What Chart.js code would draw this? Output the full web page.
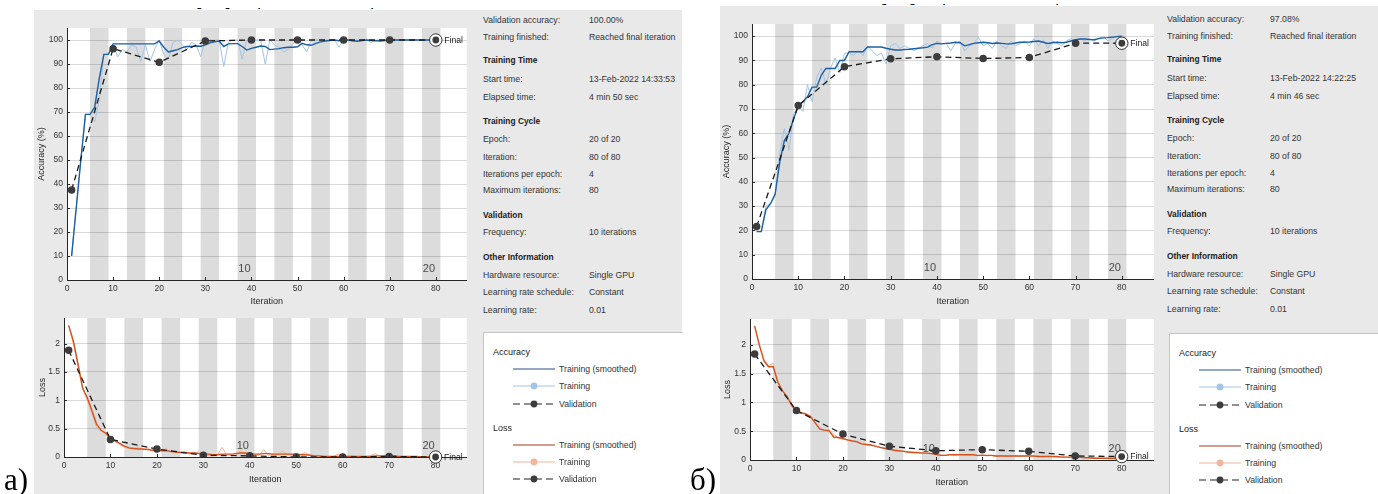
<!DOCTYPE html>
<html>
<head>
<meta charset="utf-8">
<script src="https://cdn.jsdelivr.net/npm/chart.js@4.4.1/dist/chart.umd.min.js"></script>
<style>
  html, body { margin: 0; padding: 0; background: #fff; width: 1378px; height: 494px; overflow: hidden;
               font-family: "Liberation Sans", Arial, sans-serif; position: relative; }
  .panel { position: absolute; background: #e9e9e9; }
  canvas { position: absolute; }
  .txt { position: absolute; font-size: 8.7px; line-height: 12px; color: #333; white-space: nowrap; }
  .hd { font-weight: bold; font-size: 8.4px; color: #222; }
  .legend { position: absolute; background: #fff; border-left: 1px solid #c6c6c6; border-top: 1px solid #c6c6c6; }
  .legend svg { position: absolute; }
  .tag { position: absolute; font-family: "Liberation Serif", "Times New Roman", serif; font-size: 31px; line-height: 31px; color: #000; }
  .cut { position: absolute; height: 2.5px; overflow: hidden; }
  .cut span { display: block; font-weight: bold; font-size: 11px; line-height: 11px; margin-top: -9.6px; color: #111; }
</style>
</head>
<body>

<div class="cut" style="left:160px; top:8px; width:260px;"><span>Training Progress (13-Feb-2022 14:33:53)</span></div>
<div class="cut" style="left:845px; top:4px; width:260px;"><span>Training Progress (13-Feb-2022 14:22:25)</span></div>

<div class="panel" style="left:34px; top:10px; width:648px; height:484px;"></div>
<div class="panel" style="left:720px; top:6px; width:658px; height:488px;"></div>

<canvas id="accA"></canvas>
<canvas id="lossA"></canvas>
<canvas id="accB"></canvas>
<canvas id="lossB"></canvas>

<div id="infoA"></div>
<div id="infoB"></div>
<div id="legA" class="legend" style="left:483px; top:332px; width:199px; height:162px;"></div>
<div id="legB" class="legend" style="left:1169px; top:333px; width:209px; height:161px;"></div>

<div class="tag" style="left:4px; top:464px;">а)</div>
<div class="tag" style="left:690px; top:464px;">б)</div>

<script>
const ITERS_PER_EPOCH = 4;
const EPOCH_COUNT = 20;
const iterations = Array.from({ length: 80 }, (_, k) => k + 1);
const valIterations = [1, 10, 20, 30, 40, 50, 60, 70, 80];
const labelledEpochs = [10, 20];

const accTicksMax = 105;
const lossTicksMax = 2.45;

/* ── Run а) ── */
const accRawA = [
  10, 30, 50, 69, 69, 66, 75, 94, 94, 98,
  93, 96, 95, 98, 97, 91, 98, 91, 96, 100,
  94, 92, 99, 100, 98, 96, 99, 98, 93, 100,
  100, 100, 100, 89, 99, 100, 100, 92, 100, 100,
  100, 100, 90, 100, 98, 97, 95, 96, 98.5, 100,
  98, 95, 100, 100, 100, 100, 100, 100, 97, 100,
  100, 99.5, 100, 100, 100, 99, 100, 100, 100, 100,
  100, 100, 100, 100, 100, 100, 100, 100, 100, 100
];
const accSmoothA = [
  10, 30, 50, 69, 69, 72, 84, 94, 94, 98.4,
  98.4, 98.4, 98.4, 98.4, 98.4, 98.4, 98.4, 98.4, 98.4, 99.6,
  97, 95, 95.5, 96, 96.8, 97.3, 97.3, 97.5, 97.4, 98,
  98.8, 99.2, 99.6, 97.3, 98.4, 98.5, 98.5, 97.3, 95.8, 96.5,
  97, 97.5, 97.3, 96, 96.2, 96.4, 96.8, 97, 97, 97.2,
  98.6, 98, 97.8, 98.6, 99.2, 99.6, 99.8, 100, 99.7, 100,
  100, 99.7, 99.5, 99.8, 100, 99.8, 99.7, 99.6, 99.8, 100,
  100, 100, 100, 100, 100, 100, 100, 100, 100, 100
];
const accValA = [37.5, 96.4, 90.7, 99.6, 100, 100, 100, 100, 100];

const lossRawA = [
  2.32, 2.00, 1.60, 1.20, 1.00, 0.78, 0.52, 0.45, 0.40, 0.30,
  0.27, 0.22, 0.17, 0.15, 0.14, 0.17, 0.12, 0.16, 0.11, 0.10,
  0.12, 0.15, 0.08, 0.07, 0.08, 0.09, 0.05, 0.07, 0.09, 0.03,
  0.03, 0.02, 0.03, 0.17, 0.04, 0.03, 0.03, 0.12, 0.02, 0.03,
  0.02, 0.03, 0.13, 0.03, 0.04, 0.05, 0.10, 0.05, 0.04, 0.02,
  0.05, 0.08, 0.02, 0.01, 0.01, 0.01, 0.01, 0.01, 0.05, 0.01,
  0.01, 0.02, 0.01, 0.01, 0.01, 0.02, 0.06, 0.01, 0.02, 0.01,
  0.02, 0.01, 0.01, 0.01, 0.00, 0.01, 0.00, 0.00, 0.00, 0.00
];
const lossSmoothA = [
  2.32, 2.05, 1.65, 1.22, 1.05, 0.82, 0.58, 0.47, 0.42, 0.33,
  0.29, 0.24, 0.19, 0.16, 0.15, 0.14, 0.14, 0.13, 0.12, 0.12,
  0.11, 0.11, 0.10, 0.09, 0.08, 0.08, 0.07, 0.07, 0.06, 0.05,
  0.05, 0.04, 0.04, 0.05, 0.05, 0.05, 0.06, 0.07, 0.07, 0.06,
  0.05, 0.05, 0.06, 0.06, 0.05, 0.05, 0.05, 0.05, 0.05, 0.05,
  0.04, 0.04, 0.03, 0.02, 0.02, 0.01, 0.01, 0.01, 0.01, 0.01,
  0.01, 0.01, 0.01, 0.01, 0.01, 0.01, 0.02, 0.02, 0.02, 0.02,
  0.02, 0.01, 0.01, 0.01, 0.01, 0.01, 0.00, 0.00, 0.00, 0.00
];
const lossValA = [1.88, 0.31, 0.14, 0.03, 0.02, 0.00, 0.00, 0.01, 0.00];

/* ── Run б) ── */
const accRawB = [
  19.5, 19.5, 30, 31, 34, 52, 62, 53, 68, 71,
  69, 80, 73, 83, 87, 80, 87, 91, 85, 93,
  93, 92, 94, 92, 96, 94, 92, 93, 88.5, 96,
  97, 95, 96, 95, 94, 95, 96, 97, 95, 98,
  97, 97, 94, 97, 98, 94, 96, 97, 99.5, 96,
  97, 95, 98, 96, 95, 98, 96, 97, 98, 96,
  99, 96, 98.5, 95, 98, 97, 96, 98, 99, 98,
  99, 98, 99, 98, 99, 100, 98, 99, 100, 100
];
const accSmoothB = [
  19.5, 19.5, 28.5, 31, 35, 48, 57, 60, 66, 71,
  73, 75, 79, 79, 84, 86.7, 86.7, 86.7, 90, 90,
  93.6, 93.6, 93.6, 93.6, 95.5, 95.5, 95.5, 95.5, 95, 94.6,
  94.3, 94.3, 94.5, 94.6, 94.8, 95, 95.2, 95.5, 96.5, 97,
  96.8, 97, 97.2, 97.5, 97.3, 96, 96.5, 97, 97.3, 97.5,
  97.3, 97, 97.2, 97, 96.8, 96.8, 97.2, 97.5, 97.5, 97.6,
  97.8, 98, 97.5, 97, 97.3, 97.5, 97.3, 97.5, 98, 98.5,
  98.8, 98.8, 98.6, 98.5, 99, 99.3, 99.4, 99.6, 99.8, 100
];
const accValB = [21.6, 71.4, 87.4, 90.7, 91.5, 90.8, 91.2, 97.1, 97.08];

const lossRawB = [
  2.33, 2.00, 1.75, 1.64, 1.68, 1.33, 1.22, 1.08, 0.93, 0.86,
  0.80, 0.81, 0.74, 0.64, 0.55, 0.51, 0.53, 0.45, 0.38, 0.38,
  0.34, 0.34, 0.30, 0.29, 0.26, 0.27, 0.23, 0.22, 0.21, 0.18,
  0.18, 0.15, 0.16, 0.13, 0.14, 0.12, 0.13, 0.11, 0.12, 0.09,
  0.09, 0.08, 0.10, 0.08, 0.10, 0.09, 0.08, 0.10, 0.07, 0.09,
  0.07, 0.08, 0.06, 0.08, 0.07, 0.06, 0.08, 0.06, 0.07, 0.08,
  0.06, 0.07, 0.05, 0.07, 0.06, 0.05, 0.06, 0.05, 0.04, 0.06,
  0.04, 0.05, 0.03, 0.04, 0.03, 0.02, 0.03, 0.02, 0.03, 0.02
];
const lossSmoothB = [
  2.33, 2.00, 1.72, 1.62, 1.62, 1.35, 1.20, 1.10, 0.95, 0.83,
  0.82, 0.80, 0.76, 0.65, 0.54, 0.52, 0.51, 0.40, 0.39, 0.37,
  0.35, 0.33, 0.32, 0.28, 0.27, 0.26, 0.24, 0.22, 0.20, 0.19,
  0.17, 0.16, 0.15, 0.14, 0.13, 0.13, 0.12, 0.12, 0.11, 0.10,
  0.08, 0.08, 0.09, 0.09, 0.09, 0.09, 0.09, 0.09, 0.08, 0.08,
  0.08, 0.08, 0.07, 0.07, 0.07, 0.07, 0.07, 0.07, 0.07, 0.07,
  0.07, 0.06, 0.06, 0.06, 0.06, 0.06, 0.05, 0.05, 0.05, 0.05,
  0.05, 0.04, 0.04, 0.03, 0.03, 0.03, 0.03, 0.03, 0.03, 0.03
];
const lossValB = [1.84, 0.86, 0.45, 0.24, 0.16, 0.18, 0.15, 0.07, 0.06];

/* ── Info panel text ── */
const infoA = [
  ['Validation accuracy:', '100.00%'],
  ['Training finished:', 'Reached final iteration'],
  ['Training Time'],
  ['Start time:', '13-Feb-2022 14:33:53'],
  ['Elapsed time:', '4 min 50 sec'],
  ['Training Cycle'],
  ['Epoch:', '20 of 20'],
  ['Iteration:', '80 of 80'],
  ['Iterations per epoch:', '4'],
  ['Maximum iterations:', '80'],
  ['Validation'],
  ['Frequency:', '10 iterations'],
  ['Other Information'],
  ['Hardware resource:', 'Single GPU'],
  ['Learning rate schedule:', 'Constant'],
  ['Learning rate:', '0.01']
];
const infoB = infoA.map(r => r.slice());
infoB[0][1] = '97.08%';
infoB[3][1] = '13-Feb-2022 14:22:25';
infoB[4][1] = '4 min 46 sec';

const ROW_Y = [20, 37, 60, 79, 97, 121, 139, 157, 174, 190, 215, 232, 257, 275, 292, 310];

const COL = {
  accSmooth: '#1b5fa5', accRaw: '#a3c5e6',
  lossSmooth: '#d4521c', lossRaw: '#f2b49b',
  val: '#1a1a1a', valDot: '#3c3c3c',
  stripe: '#dcdcdc', axis: '#262626', tick: '#333'
};
const FONT = '"Liberation Sans", Arial, sans-serif';

/* ── Chart decorations: epoch stripes, epoch numbers, inward ticks, final marker ── */
const epochPlugin = {
  id: 'epochs',
  beforeDraw(chart) {
    const { ctx, chartArea: a, scales: { x } } = chart;
    ctx.save();
    ctx.fillStyle = '#fff';
    ctx.fillRect(a.left, a.top, a.right - a.left, a.bottom - a.top);
    ctx.fillStyle = COL.stripe;
    for (let e = 2; e <= EPOCH_COUNT; e += 2) {
      const x0 = x.getPixelForValue((e - 1) * ITERS_PER_EPOCH + 1);
      const x1 = x.getPixelForValue(e * ITERS_PER_EPOCH + 1);
      ctx.fillRect(x0, a.top, x1 - x0, a.bottom - a.top);
    }
    ctx.restore();
  },
  beforeDatasetsDraw(chart) {
    const { ctx, chartArea: a, scales: { x } } = chart;
    ctx.save();
    ctx.font = '11px ' + FONT;
    ctx.fillStyle = '#4a4a4a';
    ctx.textAlign = 'center';
    ctx.textBaseline = 'middle';
    labelledEpochs.forEach(e => {
      const mid = (e - 1) * ITERS_PER_EPOCH + 1 + 1.5;
      ctx.fillText(String(e), x.getPixelForValue(mid), a.bottom - 11);
    });
    ctx.restore();
  },
  afterDatasetsDraw(chart) {
    const { ctx, chartArea: a, scales: { x, y } } = chart;
    ctx.save();
    ctx.strokeStyle = COL.axis;
    ctx.lineWidth = 1;
    ctx.beginPath();
    x.ticks.forEach(t => {
      const px = Math.round(x.getPixelForValue(t.value)) + 0.5;
      ctx.moveTo(px, a.bottom); ctx.lineTo(px, a.bottom - 3);
    });
    y.ticks.forEach(t => {
      const py = Math.round(y.getPixelForValue(t.value)) + 0.5;
      ctx.moveTo(a.left, py); ctx.lineTo(a.left + 3, py);
    });
    ctx.stroke();

    // final validation point
    const val = chart.data.datasets[0].data;
    const last = val[val.length - 1];
    const px = x.getPixelForValue(last.x), py = y.getPixelForValue(last.y);
    ctx.beginPath();
    ctx.arc(px, py, 6.2, 0, Math.PI * 2);
    ctx.fillStyle = '#fff';
    ctx.fill();
    ctx.strokeStyle = '#333';
    ctx.stroke();
    ctx.beginPath();
    ctx.arc(px, py, 3.4, 0, Math.PI * 2);
    ctx.fillStyle = COL.valDot;
    ctx.fill();
    ctx.font = '8.6px ' + FONT;
    ctx.fillStyle = '#222';
    ctx.textBaseline = 'middle';
    ctx.fillText('Final', px + 8.5, py + 0.5);
    ctx.restore();
  }
};

function pts(xs, ys) {
  return xs.map((v, k) => ({ x: v, y: ys[k] }));
}

function makeChart(id, area, opts) {
  const yW = 50, padTop = 10, padRight = 4, xH = 30;
  const cv = document.getElementById(id);
  const left = area.left - yW, top = area.top - padTop;
  const w = area.right + padRight - left;
  const h = area.bottom + xH - top;
  cv.style.left = left + 'px';
  cv.style.top = top + 'px';
  cv.width = w;
  cv.height = h;

  const tickFont = { family: FONT, size: 8.5 };
  const titleFont = { family: FONT, size: 9 };

  return new Chart(cv.getContext('2d'), {
    type: 'line',
    data: {
      datasets: [
        {
          label: 'Validation',
          data: pts(valIterations, opts.val),
          borderColor: COL.val,
          borderWidth: 1.3,
          borderDash: [6, 4],
          pointRadius: 3.1,
          pointBackgroundColor: COL.valDot,
          pointBorderColor: COL.valDot,
          tension: 0
        },
        {
          label: 'Training (smoothed)',
          data: pts(iterations, opts.smooth),
          borderColor: opts.smoothColor,
          borderWidth: 1.4,
          pointRadius: 0,
          tension: 0
        },
        {
          label: 'Training',
          data: pts(iterations, opts.raw),
          borderColor: opts.rawColor,
          borderWidth: 1,
          pointRadius: 0,
          tension: 0
        }
      ]
    },
    options: {
      responsive: false,
      animation: false,
      events: [],
      layout: { padding: { top: padTop, right: padRight, left: 0, bottom: 0 } },
      plugins: { legend: { display: false }, tooltip: { enabled: false } },
      scales: {
        x: {
          type: 'linear',
          min: 0,
          max: opts.xMax,
          grid: { drawOnChartArea: false, drawTicks: false },
          border: { display: true, color: COL.axis, width: 1 },
          ticks: { stepSize: 10, includeBounds: false, padding: 4, color: COL.tick, font: tickFont, maxRotation: 0 },
          title: {
            display: true, text: 'Iteration', color: '#262626', font: titleFont,
            padding: { top: 0, bottom: area.bottom + xH - 5.4 - opts.xTitleY }
          },
          afterFit(s) { s.height = xH; s.paddingLeft = 0; s.paddingRight = 0; }
        },
        y: {
          min: 0,
          max: opts.yMax,
          grid: { color: 'rgba(0,0,0,0.15)', drawTicks: false },
          border: { display: true, color: COL.axis, width: 1 },
          ticks: {
            stepSize: opts.yStep, includeBounds: false, padding: 4, color: COL.tick, font: tickFont,
            callback: v => String(Math.round(v * 100) / 100)
          },
          title: {
            display: true, text: opts.yTitle, color: '#262626', font: titleFont,
            padding: { top: opts.yTitleX - left - 5.4, bottom: 0 }
          },
          afterFit(s) { s.width = yW; s.paddingTop = 0; s.paddingBottom = 0; }
        }
      }
    },
    plugins: [epochPlugin]
  });
}

makeChart('accA', { left: 67, top: 28, right: 468, bottom: 280 }, {
  raw: accRawA, smooth: accSmoothA, val: accValA,
  rawColor: COL.accRaw, smoothColor: COL.accSmooth,
  xMax: 86.7, yMax: accTicksMax, yStep: 10, yTitle: 'Accuracy (%)', yTitleX: 42, xTitleY: 302
});
makeChart('lossA', { left: 64, top: 318, right: 468, bottom: 457 }, {
  raw: lossRawA, smooth: lossSmoothA, val: lossValA,
  rawColor: COL.lossRaw, smoothColor: COL.lossSmooth,
  xMax: 86.7, yMax: lossTicksMax, yStep: 0.5, yTitle: 'Loss', yTitleX: 42.5, xTitleY: 480
});
makeChart('accB', { left: 752, top: 24, right: 1155, bottom: 279 }, {
  raw: accRawB, smooth: accSmoothB, val: accValB,
  rawColor: COL.accRaw, smoothColor: COL.accSmooth,
  xMax: 86.9, yMax: accTicksMax, yStep: 10, yTitle: 'Accuracy (%)', yTitleX: 727, xTitleY: 302
});
makeChart('lossB', { left: 750, top: 319, right: 1155, bottom: 460 }, {
  raw: lossRawB, smooth: lossSmoothB, val: lossValB,
  rawColor: COL.lossRaw, smoothColor: COL.lossSmooth,
  xMax: 86.9, yMax: lossTicksMax, yStep: 0.5, yTitle: 'Loss', yTitleX: 728, xTitleY: 483
});

/* ── Info text ── */
function renderInfo(hostId, rows, labelX, valueX, dy) {
  const host = document.getElementById(hostId);
  rows.forEach((r, k) => {
    const top = ROW_Y[k] + dy - 6;
    const a = document.createElement('div');
    a.className = 'txt' + (r.length === 1 ? ' hd' : '');
    a.style.left = labelX + 'px';
    a.style.top = top + 'px';
    a.textContent = r[0];
    host.appendChild(a);
    if (r.length > 1) {
      const b = document.createElement('div');
      b.className = 'txt';
      b.style.left = valueX + 'px';
      b.style.top = top + 'px';
      b.textContent = r[1];
      host.appendChild(b);
    }
  });
}
renderInfo('infoA', infoA, 483, 589, 0);
renderInfo('infoB', infoB, 1167, 1270, -1);

/* ── Legend ── */
function symbol(kind, color) {
  const dash = kind === 'val' ? ' stroke-dasharray="7 4"' : '';
  const dot = kind === 'smooth' ? '' :
    `<circle cx="21" cy="5" r="3.4" fill="${kind === 'val' ? COL.valDot : color}"/>`;
  return `<line x1="0" y1="5" x2="42" y2="5" stroke="${color}" stroke-width="1.1"${dash}/>${dot}`;
}

function renderLegend(hostId) {
  const host = document.getElementById(hostId);
  const groups = [
    ['Accuracy', 19, [['smooth', '#2c4e86'], ['raw', COL.accRaw], ['val', '#222']]],
    ['Loss', 94.5, [['smooth', '#a23d28'], ['raw', COL.lossRaw], ['val', '#222']]]
  ];
  const names = { smooth: 'Training (smoothed)', raw: 'Training', val: 'Validation' };
  let html = '';
  groups.forEach(([title, y0, items]) => {
    html += `<div class="txt" style="left:9px; top:${y0 - 6}px; font-size:9px; color:#222;">${title}</div>`;
    items.forEach(([kind, color], k) => {
      const yy = y0 + 17.2 * (k + 1);
      html += `<svg style="left:29px; top:${yy - 5}px;" width="42" height="10">${symbol(kind, color)}</svg>`;
      html += `<div class="txt" style="left:75px; top:${yy - 6}px;">${names[kind]}</div>`;
    });
  });
  host.innerHTML = html;
}
renderLegend('legA');
renderLegend('legB');
</script>
</body>
</html>
